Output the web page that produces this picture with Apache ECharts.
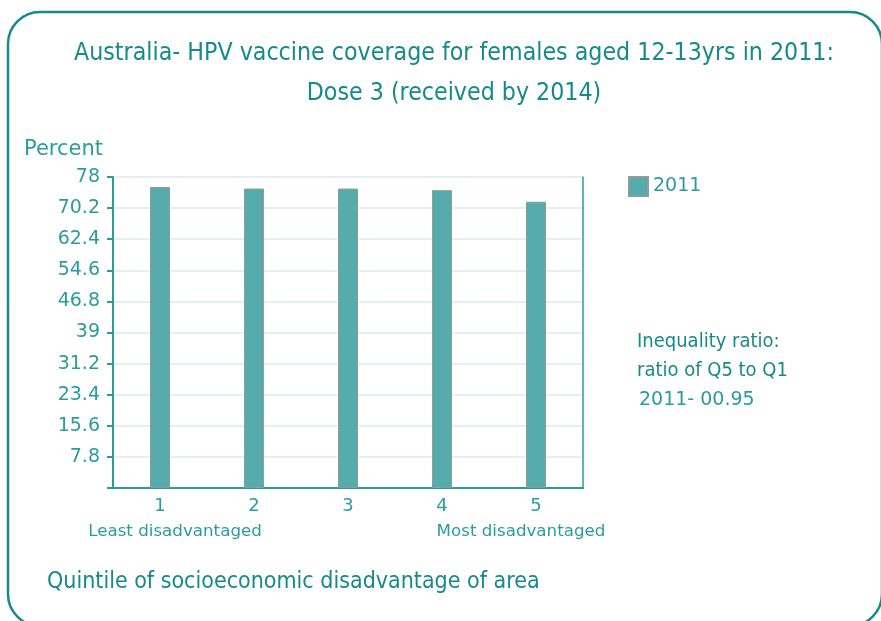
<!DOCTYPE html>
<html>
<head>
<meta charset="utf-8">
<script src="https://cdn.jsdelivr.net/npm/echarts@6/dist/echarts.min.js"></script>
<style>
  html, body { margin: 0; padding: 0; background: #fff; }
  #container { width: 881px; height: 621px; }
</style>
</head>
<body>
<div id="container"></div>
<script>
// data
var quintiles = ['1', '2', '3', '4', '5'];
var coverage2011 = [75.5, 75.1, 75.1, 74.7, 71.8];
var yTicks = { min: 0, max: 78, step: 7.8 };
var seriesName = '2011';

var teal = '#16898b';
var tealLight = '#2a9c9c';
var barColor = '#56abad';

var dom = document.getElementById('container');
var myChart = echarts.init(dom);

var option = {
    backgroundColor: '#fff',
    animation: false,
    title: {
        text: 'Australia- HPV vaccine coverage for females aged 12-13yrs in 2011:\nDose 3 (received by 2014)',
        left: 449,
        textAlign: 'center',
        top: 29,
        textStyle: {
            color: teal,
            fontFamily: 'DejaVu Sans Condensed',
            fontWeight: 'normal',
            fontSize: 24.7,
            lineHeight: 40
        }
    },
    legend: {
        data: [seriesName],
        left: 623,
        top: 171,
        icon: 'rect',
        itemWidth: 19,
        itemHeight: 19,
        itemGap: 8,
        textStyle: { color: tealLight, fontFamily: 'DejaVu Sans', fontSize: 19 }
    },
    grid: {
        left: 113,
        right: 298,
        top: 177,
        bottom: 133
    },
    xAxis: {
        type: 'category',
        data: quintiles,
        axisLine: { lineStyle: { color: tealLight, width: 2 } },
        axisTick: { length: 6, lineStyle: { color: tealLight, width: 2 } },
        axisLabel: { color: tealLight, fontFamily: 'DejaVu Sans', fontSize: 18, margin: 9 }
    },
    yAxis: [{
        type: 'value',
        min: yTicks.min,
        max: yTicks.max,
        interval: yTicks.step,
        axisLine: { show: true, lineStyle: { color: tealLight, width: 2 } },
        axisTick: { show: true, length: 6, lineStyle: { color: tealLight, width: 2 } },
        axisLabel: {
            color: tealLight, fontFamily: 'DejaVu Sans', fontSize: 19, margin: 13,
            formatter: function (v) { return v === 0 ? '' : String(+v.toFixed(1)); }
        },
        splitLine: { lineStyle: { color: '#ddeded', width: 1.5 } }
    }, {
        type: 'value',
        min: yTicks.min,
        max: yTicks.max,
        interval: yTicks.step,
        position: 'right',
        axisLine: { show: true, lineStyle: { color: tealLight, width: 1.5 } },
        axisTick: { show: false },
        axisLabel: { show: false },
        splitLine: { show: false }
    }],
    series: [{
        name: seriesName,
        type: 'bar',
        data: coverage2011,
        barWidth: 20,
        itemStyle: { color: barColor, borderColor: '#8c9c9c', borderWidth: 1 }
    }],
    graphic: [
        {
            type: 'rect',
            shape: { x: 8, y: 12, width: 874, height: 614, r: 32 },
            style: { fill: 'none', stroke: teal, lineWidth: 2.5 },
            z: -1
        },
        {
            type: 'text', left: 24, top: 139,
            style: { text: 'Percent', fill: tealLight, font: '21px "DejaVu Sans"' }
        },
        {
            type: 'text', x: 175, y: 532,
            style: { text: 'Least disadvantaged', fill: tealLight, font: '16.7px "DejaVu Sans"', align: 'center', verticalAlign: 'middle' }
        },
        {
            type: 'text', x: 521, y: 532,
            style: { text: 'Most disadvantaged', fill: tealLight, font: '16.7px "DejaVu Sans"', align: 'center', verticalAlign: 'middle' }
        },
        {
            type: 'text', left: 47, top: 571,
            style: { text: 'Quintile of socioeconomic disadvantage of area', fill: teal, font: '23px "DejaVu Sans Condensed"' }
        },
        {
            type: 'text', left: 637, top: 327,
            style: { text: 'Inequality ratio:\nratio of Q5 to Q1', fill: teal, font: '20px "DejaVu Sans Condensed"', lineHeight: 29 }
        },
        {
            type: 'text', left: 639, top: 391,
            style: { text: '2011- 00.95', fill: tealLight, font: '19px "DejaVu Sans"' }
        }
    ]
};

if (option && typeof option === 'object') {
    myChart.setOption(option, true);
}
</script>
</body>
</html>
